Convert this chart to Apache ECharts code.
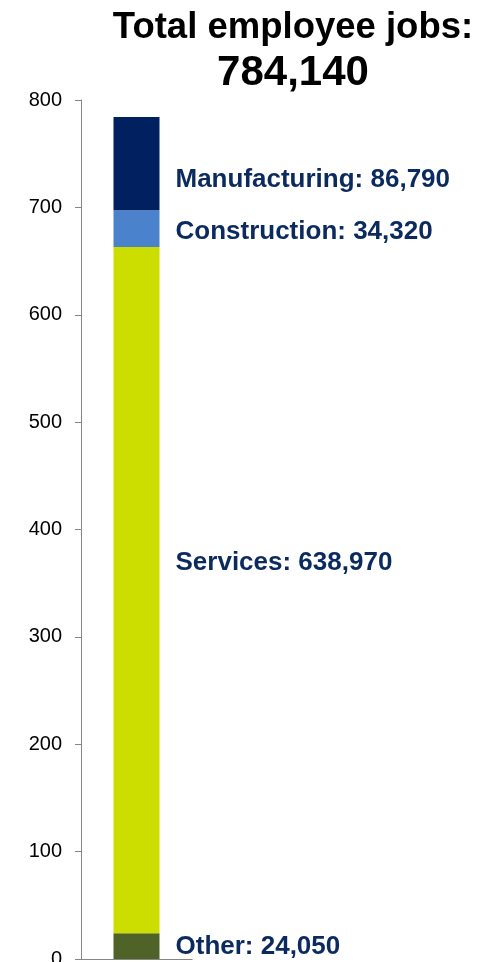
<!DOCTYPE html>
<html>
<head>
<meta charset="utf-8">
<script src="https://cdn.jsdelivr.net/npm/echarts@6/dist/echarts.min.js"></script>
<style>
html,body{margin:0;padding:0;background:#fff;}
#chart{width:481px;height:962px;}
</style>
</head>
<body>
<div id="chart"></div>
<script>
const categories = ['Total'];
const seriesNames = ['Other', 'Services', 'Construction', 'Manufacturing'];
// values in thousands of jobs
const otherValues = [24.05];
const servicesValues = [638.97];
const constructionValues = [34.32];
const manufacturingValues = [86.79];
const totalJobs = 784140;
const yTicks = [0, 100, 200, 300, 400, 500, 600, 700, 800];

const colors = ['#4F6228', '#CCDD00', '#4A82CC', '#002060'];
const labelOffsets = [[0, 1], [0, -27], [0, 3], [0, 16]];
const seriesValues = [otherValues, servicesValues, constructionValues, manufacturingValues];

const chart = echarts.init(document.getElementById('chart'), null, {renderer: 'canvas'});
const fmt = v => Math.round(v * 1000).toLocaleString('en-US');
const FONT = 'Liberation Sans, Arial, sans-serif';

const series = seriesNames.map((name, i) => ({
  name: name,
  type: 'bar',
  stack: 'jobs',
  barWidth: 46,
  data: seriesValues[i],
  itemStyle: {color: colors[i]},
  label: {
    show: true,
    position: 'right',
    distance: 16,
    offset: labelOffsets[i],
    formatter: p => p.seriesName + ': ' + fmt(p.value),
    fontFamily: FONT,
    fontWeight: 'bold',
    fontSize: 26,
    color: '#0B2A5E'
  },
  emphasis: {disabled: true}
}));

chart.setOption({
  animation: false,
  title: {
    text: '{a|Total employee jobs:}\n{b|' + totalJobs.toLocaleString('en-US') + '}',
    left: 288,
    top: 3,
    textAlign: 'center',
    textStyle: {
      rich: {
        a: {fontFamily: FONT, fontWeight: 'bold', fontSize: 36.5, lineHeight: 40, color: '#000', align: 'center'},
        b: {fontFamily: FONT, fontWeight: 'bold', fontSize: 42, lineHeight: 50, color: '#000', align: 'center'}
      }
    }
  },
  grid: {left: 81, right: 289, top: 100, bottom: 3, outerBoundsMode: 'none', containLabel: false},
  xAxis: {
    type: 'category',
    data: categories,
    axisLabel: {show: false},
    axisTick: {show: false},
    axisLine: {lineStyle: {color: '#868686', width: 1}}
  },
  yAxis: {
    type: 'value',
    min: yTicks[0],
    max: yTicks[yTicks.length - 1],
    interval: 100,
    axisLine: {show: true, lineStyle: {color: '#868686', width: 1}},
    axisTick: {show: true, length: 6, lineStyle: {color: '#868686'}},
    splitLine: {show: false},
    axisLabel: {
      margin: 19,
      fontFamily: FONT,
      fontSize: 20,
      color: '#000'
    }
  },
  series: series
});
</script>
</body>
</html>
